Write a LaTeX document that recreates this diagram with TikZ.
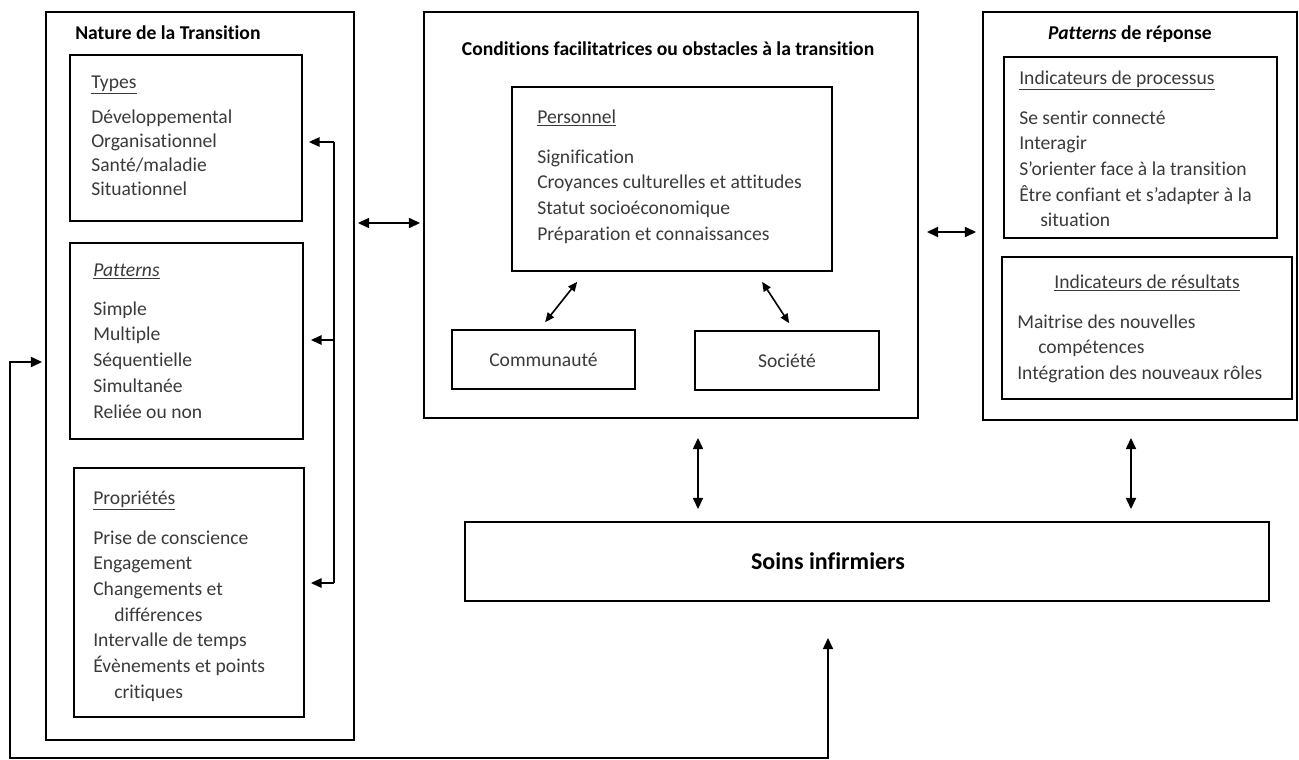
\documentclass[tikz,border=0pt]{standalone}
\usepackage{fontspec}
\setmainfont{Carlito}[Ligatures=NoCommon]
\usepackage{tikz}
\usetikzlibrary{arrows.meta,positioning,fit}
\definecolor{bodygrey}{HTML}{3A3A3A}
\newcommand{\hd}[1]{\underline{#1}}
\newcommand{\ind}{\hspace*{15.75pt}}

\begin{document}
\begin{tikzpicture}[x=0.75pt,y=-0.75pt,
  box/.style={draw,line width=1.3pt,inner sep=0pt},
  txt/.style={align=flush left,text width=215pt,inner sep=0pt,anchor=base west,text=bodygrey,
              font=\fontsize{14.7}{19.3}\selectfont},
  lbl/.style={inner sep=0pt,text=bodygrey,font=\fontsize{14.7}{18}\selectfont},
  ttl/.style={inner sep=0pt,font=\fontsize{14.7}{18}\selectfont\bfseries},
  biarr/.style={{Triangle[length=8.5pt,width=7.5pt]}-{Triangle[length=8.5pt,width=7.5pt]},line width=1.6pt},
  biarrsm/.style={{Triangle[length=7pt,width=6pt]}-{Triangle[length=7pt,width=6pt]},line width=1.2pt},
  arr/.style={-{Triangle[length=8pt,width=7pt]},line width=1.3pt}]
\useasboundingbox (0,0) rectangle (1299,760);
\node[box,fit={(46,12) (354,740)}] (nature) {};
\node[box,fit={(424,12) (918,418)}] (cond) {};
\node[box,fit={(983,12) (1297,420)}] (resp) {};
\node[box,fit={(465,522) (1269,601)}] (soins) {};
\node[box,fit={(70,55) (302,221)}] (types) {};
\node[box,fit={(70,243) (303,439)}] (patt) {};
\node[box,fit={(74,468) (304,717)}] (props) {};
\node[box,fit={(512,87) (832,271)}] (perso) {};
\node[box,fit={(452,330) (635,389)}] (comm) {};
\node[box,fit={(695,331) (879,390)}] (soc) {};
\node[box,fit={(1004,57) (1277,238)}] (proc) {};
\node[box,fit={(1002,257) (1292,399)}] (resu) {};

\node[ttl,anchor=base west] (naturehd) at (75,39) {Nature de la Transition};
\node[ttl,anchor=base] (condhd) at (668,55) {Conditions facilitatrices ou obstacles à la transition};
\node[ttl,anchor=base] (resphd) at (1130,39) {\textit{Patterns} de réponse};
\node[txt,font=\fontsize{14.7}{18}\selectfont] (typestxt) at (91,88)
  {\hd{Types}\\[8.25pt] Développemental\\Organisationnel\\Santé/maladie\\Situationnel};
\node[txt] (patttxt) at (93,276)
  {\hd{\textit{Patterns}}\\[10pt] Simple\\Multiple\\Séquentielle\\Simultanée\\Reliée ou non};
\node[txt] (propstxt) at (93,504)
  {\hd{Propriétés}\\[10.7pt] Prise de conscience\\Engagement\\Changements et\\\ind différences\\
   Intervalle de temps\\Évènements et points\\\ind critiques};
\node[txt] (persotxt) at (537,123)
  {\hd{Personnel}\\[10.7pt] Signification\\Croyances culturelles et attitudes\\Statut socioéconomique\\
   Préparation et connaissances};
\node[lbl] (commtxt) at (comm.center) {Communauté};
\node[lbl] (soctxt) at (soc.center) {Société};
\node[txt] (proctxt) at (1019,84)
  {\hd{Indicateurs de processus}\\[10.7pt] Se sentir connecté\\Interagir\\S’orienter face à la transition\\
   Être confiant et s’adapter à la\\\ind situation};
\node[lbl,anchor=base] (resuhd) at (1147,288) {\hd{Indicateurs de résultats}};
\node[txt] (resutxt) at (1017,328)
  {Maitrise des nouvelles\\\ind compétences\\Intégration des nouveaux rôles};
\node[font=\fontsize{18}{22}\selectfont\bfseries,inner sep=0pt] (soinstxt) at (828,561) {Soins infirmiers};

\coordinate (ha) at (0,223);
\coordinate (hb) at (0,232);
\coordinate (va) at (698,0);
\coordinate (vb) at (1131,0);
\draw[biarr,shorten <=2.25pt,shorten >=2.25pt] (nature.east|-ha) -- (cond.west|-ha);
\draw[biarr,shorten <=6pt,shorten >=4.5pt] (cond.east|-hb) -- (resp.west|-hb);
\draw[biarr,shorten <=14.25pt,shorten >=9pt] (cond.south-|va) -- (soins.north-|va);
\draw[biarr,shorten <=12.75pt,shorten >=9pt] (resp.south-|vb) -- (soins.north-|vb);
\draw[biarrsm] ([shift={(66,10)}]perso.south west) -- ([shift={(94,-7)}]comm.north west);
\draw[biarrsm] ([shift={(251,10)}]perso.south west) -- ([shift={(95,-7)}]soc.north west);

\coordinate (bt) at (334,142);
\coordinate (bp) at (334,340);
\coordinate (bb) at (334,583);
\draw[line width=1.3pt] (bt) -- (bb);
\draw[arr,shorten >=4.5pt] (bt) -- (types.east|-bt);
\draw[arr,shorten >=5.25pt] (bp) -- (patt.east|-bp);
\draw[arr,shorten >=4.5pt] (bb) -- (props.east|-bb);

\coordinate (la) at (828,758);
\coordinate (lb) at (10,362);
\draw[biarr,shorten <=27pt,shorten >=2.25pt] (soins.south-|la) -- (la) -| (lb) -- (nature.west|-lb);
\end{tikzpicture}
\end{document}
